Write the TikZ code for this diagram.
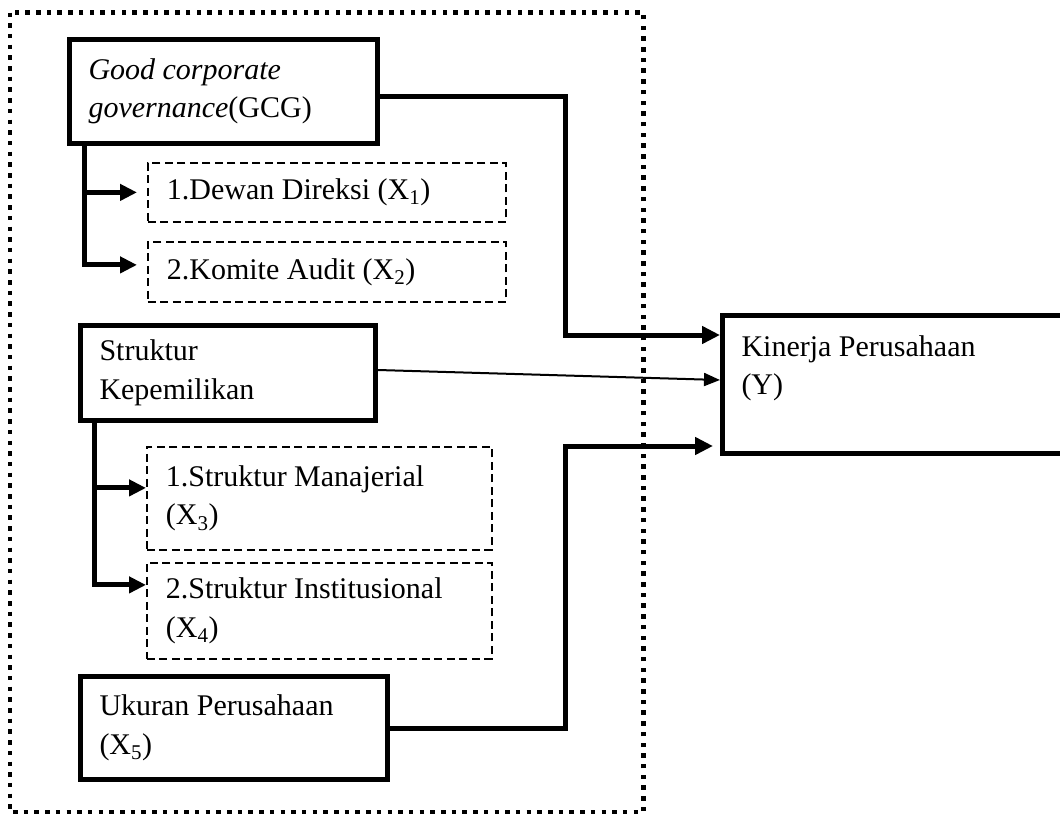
\documentclass[tikz,border=0pt]{standalone}
\usepackage{fontspec}
\setmainfont{Liberation Serif}
\usetikzlibrary{arrows.meta}

\begin{document}
\begin{tikzpicture}[
    x=1pt, y=-1pt,
    font=\fontsize{30}{38.5}\selectfont,
    every node/.append style={execute at begin node={\spaceskip=0pt\xspaceskip=0pt\relax}},
    mainbox/.style={draw, line width=5pt, anchor=north west, align=left, inner xsep=19pt, inner ysep=0pt},
    subbox/.style={draw, line width=1.8pt, dash pattern=on 8pt off 4.5pt, anchor=north west, align=left, inner xsep=19pt, inner ysep=0pt},
    branch/.style={line width=5pt, -{Triangle[length=17pt, width=16pt]}},
    link/.style={line width=5pt, -{Triangle[length=18pt, width=17pt]}},
    thinlink/.style={line width=2pt, -{Triangle[length=16pt, width=13pt]}}
]

\useasboundingbox (0,0) rectangle (1060,814);
\clip (0,0) rectangle (1060,814);

% Dotted frame round the independent variables
\draw[line width=4.5pt, dash pattern=on 4.5pt off 6.2pt] (10,12.5) rectangle (643.5,812);

% 1. GCG
\node[mainbox, text width=270pt, minimum height=104pt] (gcg) at (67,37) {\textit{Good corporate}\\\textit{governance}(GCG)};
\node[subbox, text width=320pt, minimum height=59pt] (dewan) at (147,162) {1.Dewan Direksi (X\textsubscript{1})};
\node[subbox, text width=320pt, minimum height=60pt] (komite) at (147,241) {2.Komite Audit (X\textsubscript{2})};

% 2. Struktur Kepemilikan
\node[mainbox, text width=257pt, minimum height=95pt] (struktur) at (78,323) {Struktur\\Kepemilikan};
\node[subbox, text width=307pt, minimum height=103pt] (manajerial) at (146,446) {1.Struktur Manajerial\\(X\textsubscript{3})};
\node[subbox, text width=307pt, minimum height=96pt] (institusional) at (146,562) {2.Struktur Institusional\\(X\textsubscript{4})};

% 3. Ukuran Perusahaan
\node[mainbox, text width=269pt, minimum height=103pt] (ukuran) at (78,674) {Ukuran Perusahaan\\(X\textsubscript{5})};

% 4. Kinerja Perusahaan (Y)
\node[mainbox, text width=362pt, minimum height=138pt] (kinerja) at (720,313) {Kinerja Perusahaan\\(Y)\\\mbox{}};

% GCG indicators
\coordinate (gcgfork) at ([xshift=17pt]gcg.south west);
\draw[branch, shorten >=10pt] (gcgfork) |- ([yshift=7pt]komite.west);
\draw[branch, shorten >=10pt] (gcgfork |- dewan.west) -- (dewan.west);

% Struktur indicators
\coordinate (skfork) at ([xshift=16pt]struktur.south west);
\coordinate (m3in) at ([yshift=10.5pt]manajerial.west);
\draw[branch] (skfork) |- ([yshift=26pt]institusional.west);
\draw[branch] (skfork |- m3in) -- (m3in);

% Links to Y
\coordinate (midx) at (565,0);
\coordinate (yA) at ([yshift=49.5pt]kinerja.west);
\coordinate (yB) at ([yshift=4.5pt]kinerja.west);
\coordinate (yC) at ([yshift=-61.5pt]kinerja.west);
\draw[link] ([yshift=-5pt]gcg.east) -| (midx |- yA) -- (yA);
\draw[thinlink] ([yshift=3pt]struktur.east) -- (yB);
\draw[link, shorten >=7pt] (ukuran.east) -| (midx |- yC) -- (yC);

\end{tikzpicture}
\end{document}
